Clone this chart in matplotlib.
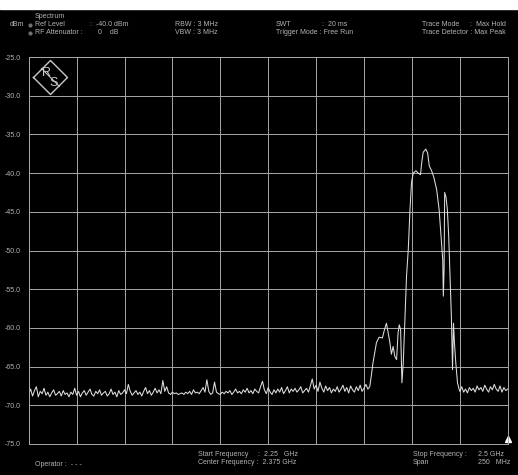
import numpy as np
import matplotlib
matplotlib.use("Agg")
import matplotlib.pyplot as plt

# --- data (MHz, dBm) ---
noise_left_start = 2250
noise_left = [
    -68.6, -67.9, -68.8, -68.1, -67.6, -68.9, -68.2, -68.5, -67.8, -68.7,
    -68.3, -68.9, -68.4, -68.0, -68.7, -68.5, -68.2, -68.8, -68.1, -68.6,
    -68.4, -68.9, -68.3, -68.6, -67.8, -68.7, -68.2, -68.9, -68.4, -68.1,
    -68.7, -68.3, -67.9, -68.6, -68.8, -68.2, -68.5, -68.0, -68.7, -68.4,
    -68.2, -68.8, -68.5, -67.9, -68.6, -68.3, -68.9, -68.1, -68.6, -68.4,
    -68.0, -68.5, -67.3, -68.2, -68.7, -68.4, -68.1, -68.6, -68.3, -68.8,
    -68.2, -67.7, -68.5, -68.1, -68.7, -68.3, -67.8, -68.4, -68.0, -68.5,
    -66.8, -68.2, -67.6, -68.4, -68.6, -68.3, -68.5, -68.4, -68.6, -68.5,
    -68.4, -68.6, -68.3, -68.5, -68.2, -68.6, -68.0, -68.4, -68.3, -68.5,
    -68.1, -67.7, -68.3, -66.7, -68.2, -68.6, -68.4, -67.0, -68.3, -68.5,
    -68.6, -68.3, -68.5, -68.2, -68.4, -68.1, -68.6, -68.3, -67.9, -68.4,
    -68.2, -68.5, -68.0, -68.3, -67.8, -68.4, -68.1, -68.5, -67.9, -68.2,
    -68.4, -67.6, -66.9, -68.0, -68.5, -67.7, -68.3, -68.6, -68.0, -68.4,
    -67.9, -68.3, -67.7, -68.5, -68.1, -67.6, -68.4, -67.9, -68.2, -67.8,
    -68.3, -68.0, -67.6, -68.4, -68.1, -67.8, -68.3, -67.5, -66.6, -67.9,
    -67.4, -68.2, -67.0, -67.8, -68.3, -67.5, -68.1, -67.7, -68.4, -67.9,
    -68.2, -67.6, -68.3, -67.9, -67.4, -68.2, -67.7, -68.4, -67.5, -68.0,
    -68.3, -67.6, -68.1, -67.4, -68.2, -67.8, -67.3, -67.9,
]

signal_freq = [
    2428.0, 2428.8, 2429.7, 2431.5, 2432.9, 2434.6, 2435.5, 2436.7, 2437.6,
    2438.5, 2439.3, 2440.2, 2441.1, 2442.0, 2442.8, 2443.4, 2444.1, 2444.8,
    2445.5, 2446.3, 2447.2, 2448.1, 2449.0, 2449.8, 2450.7, 2452.1, 2453.3,
    2454.5, 2455.1, 2455.9, 2457.3, 2458.2, 2459.1, 2460.3, 2461.5, 2462.9,
    2464.2, 2465.2, 2466.1, 2466.4, 2466.8, 2467.1, 2467.8, 2468.5, 2469.2,
    2469.9, 2470.6, 2471.2, 2471.7, 2472.2, 2472.9, 2473.8, 2474.5,
]
signal_dbm = [
    -67.6, -66.2, -64.5, -61.9, -61.2, -61.3, -60.4, -59.4, -60.6,
    -61.9, -63.4, -62.4, -63.7, -64.1, -60.6, -59.6, -60.2, -67.1,
    -64.5, -59.4, -53.3, -49.9, -44.7, -41.2, -40.0, -39.7, -40.0,
    -40.2, -38.7, -37.3, -36.9, -37.4, -39.1, -39.7, -40.6, -42.1,
    -44.7, -48.1, -51.2, -55.9, -52.5, -42.5, -43.1, -44.7, -48.1,
    -53.3, -58.5, -65.4, -59.4, -61.9, -64.5, -67.1, -67.8,
]

noise_right_start = 2475
noise_right = [
    -68.2, -67.6, -68.3, -67.9, -68.4, -67.7, -68.1, -67.8, -68.3, -67.5,
    -68.0, -67.7, -68.2, -67.4, -67.9, -68.3, -67.6, -68.0, -67.3, -67.9,
    -68.2, -67.5, -68.3, -67.7, -68.1, -67.9,
]

f_start, f_stop = 2250, 2500
ref_level, y_bottom = -25, -75
y_ticks = np.arange(ref_level, y_bottom - 1, -5)

freq = np.concatenate([noise_left_start + np.arange(len(noise_left)),
                       signal_freq,
                       noise_right_start + np.arange(len(noise_right))])
level = np.concatenate([noise_left, signal_dbm, noise_right])

# --- figure ---
plt.rcParams['font.family'] = ['Liberation Sans', 'DejaVu Sans']
W, H = 518, 475
fig = plt.figure(figsize=(W / 100, H / 100), dpi=100, facecolor='black')

grid_c = '#a8a8a8'
text_c = '#b4b4b4'

ax = fig.add_axes([28.7 / W, 1 - 444 / H, 479 / W, 387 / H], facecolor='black')
ax.plot(freq, level, color='#dedede', lw=0.75)
ax.set_xlim(f_start, f_stop)
ax.set_ylim(y_bottom, ref_level)
ax.set_xticks(np.linspace(f_start, f_stop, 11))
ax.set_xticklabels([])
ax.set_yticks(y_ticks)
ax.set_yticklabels([f"{v:.1f}" for v in y_ticks], color=text_c, fontsize=5)
ax.tick_params(length=0, pad=6)
ax.grid(True, color=grid_c, lw=0.7)
for s in ax.spines.values():
    s.set_color(grid_c)
    s.set_linewidth(0.7)
# reference marker triangle at bottom right
ax.plot([1.0], [0.012], marker='^', color='white', ms=5, transform=ax.transAxes, clip_on=False)

# white strip at top of the capture
fig.add_artist(plt.Rectangle((0, 1 - 9 / H), 1, 9 / H, transform=fig.transFigure,
                             color='white', zorder=0))


def px(x, y, s, size=5, **kw):
    fig.text(x / W, 1 - y / H, s, color=text_c, fontsize=size, va='center', **kw)


# header
px(35, 16, "Spectrum")
px(10, 25, "dBm")
for yb in (25, 33):
    fig.add_artist(plt.Line2D([30 / W], [1 - yb / H], marker='o', ms=2, lw=0,
                              color='#707070'))
px(35, 25, "Ref Level")
px(90, 25, ":  -40.0 dBm")
px(35, 33, "RF Attenuator :")
px(98, 33, "0    dB")
px(175, 25, "RBW : 3 MHz")
px(175, 33, "VBW : 3 MHz")
px(276, 25, "SWT")
px(322, 25, ":  20 ms")
px(276, 33, "Trigger Mode : Free Run")
px(422, 25, "Trace Mode")
px(470, 25, ":  Max Hold")
px(422, 33, "Trace Detector : Max Peak")

# footer
px(35, 464, "Operator :  - - -")
px(198, 455, "Start Frequency")
px(258, 455, ":  2.25   GHz")
px(198, 463, "Center Frequency :  2.375 GHz")
px(413, 455, "Stop Frequency :")
px(478, 455, "2.5 GHz")
px(413, 463, "Span")
px(478, 463, "250   MHz")

# R&S logo
logo_c = '#c8c8c8'
cx, cy, r = 50.5, 77.5, 17
xs = np.array([cx - r, cx, cx + r, cx, cx - r]) / W
ys = 1 - np.array([cy, cy - r, cy, cy + r, cy]) / H
fig.add_artist(plt.Line2D(xs, ys, color=logo_c, lw=1.0))
fig.add_artist(plt.Line2D([(cx - 9) / W, (cx + 9) / W], [1 - (cy - 9) / H, 1 - (cy + 9) / H],
                          color=logo_c, lw=0.8))
fig.text((cx - 4) / W, 1 - (cy - 4) / H, "R", color=logo_c, fontsize=9,
         ha='center', va='center')
fig.text((cx + 3) / W, 1 - (cy + 6) / H, "S", color=logo_c, fontsize=9,
         ha='center', va='center')

fig.savefig("out.png", dpi=100, facecolor='black')
